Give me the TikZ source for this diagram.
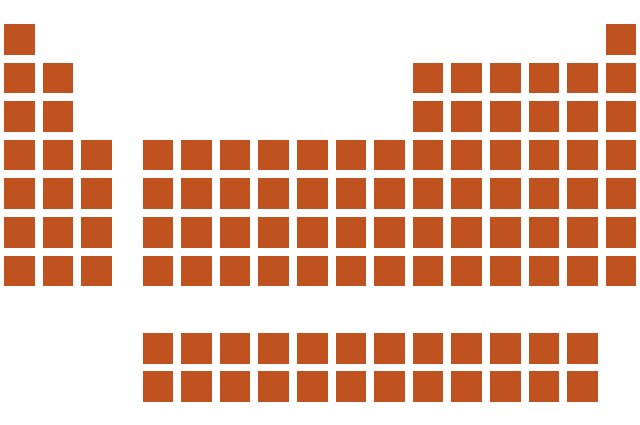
\documentclass[tikz,border=0pt]{standalone}
\definecolor{cell}{RGB}{192,82,31}
\begin{document}
\begin{tikzpicture}[x=1pt,y=-1pt,
  cellbox/.style={fill=cell}]
\useasboundingbox (0,0) rectangle (640,425);
\def\pitch{38.6}
\def\sz{30.7}
% x of group A column i: 4 + i*pitch ; group B column j: 142.5 + j*pitch
% y of row r: 24 + r*pitch
\newcommand{\cellA}[2]{\fill[cellbox] ({4+#1*\pitch},{24+#2*\pitch}) rectangle ++(\sz,\sz);}
\newcommand{\cellB}[2]{\fill[cellbox] ({142.5+#1*\pitch},{24+#2*\pitch}) rectangle ++(\sz,\sz);}
% row 1
\cellA{0}{0}
\cellB{12}{0}
% rows 2-3
\foreach \r in {1,2}{
  \foreach \i in {0,1}{\cellA{\i}{\r}}
  \foreach \j in {7,...,12}{\cellB{\j}{\r}}
}
% rows 4-7
\foreach \r in {3,...,6}{
  \foreach \i in {0,1,2}{\cellA{\i}{\r}}
  \foreach \j in {0,...,12}{\cellB{\j}{\r}}
}
% bottom two rows
\foreach \r in {8,9}{
  \foreach \j in {0,...,11}{\cellB{\j}{\r}}
}
\end{tikzpicture}
\end{document}
